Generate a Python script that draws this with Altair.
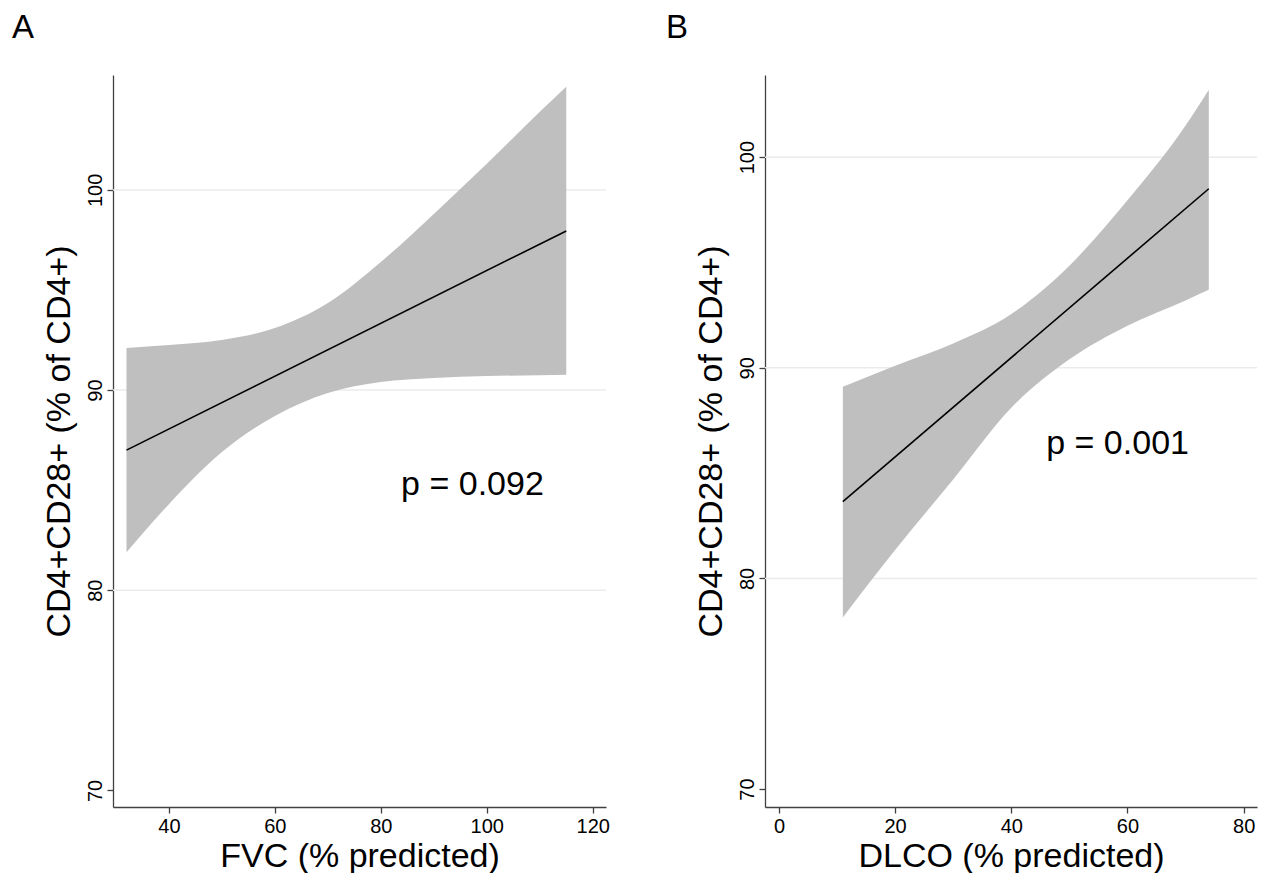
import altair as alt
import pandas as pd

# ---------------- data ----------------
# Panel A: FVC
a_band_x = [32, 40, 50, 60, 70, 80, 90, 100, 110, 115]
a_band_hi = [92.1, 92.25, 92.5, 93.1, 94.35, 96.4, 98.8, 101.3, 103.9, 105.15]
a_band_lo = [81.9, 84.3, 86.9, 88.7, 89.85, 90.4, 90.6, 90.7, 90.74, 90.76]
a_line_x = [32, 115]
a_line_y = [87.0, 97.95]
a_p_label = ["p = 0.092"]
a_p_x = [97.3]
a_p_y = [85.25]
a_xticks = [40, 60, 80, 100, 120]

# Panel B: DLCO
b_band_x = [11, 20, 30, 40, 50, 60, 70, 74]
b_band_hi = [89.1, 90.1, 91.15, 92.55, 94.85, 97.95, 101.5, 103.2]
b_band_lo = [78.15, 81.35, 84.7, 88.1, 90.4, 92.0, 93.2, 93.7]
b_line_x = [11, 74]
b_line_y = [83.65, 98.5]
b_p_label = ["p = 0.001"]
b_p_x = [58.3]
b_p_y = [86.36]
b_xticks = [0, 20, 40, 60, 80]

yticks = [70, 80, 90, 100]
grid_values = [80, 90, 100]
y_title = "CD4+CD28+ (% of CD4+)"

FONT = "Liberation Sans"


def panel(band_x, hi, lo, line_x, line_y, p_x, p_y, p_label, xdom, ydom,
          xticks, xtitle, letter, w, h, dx):
    band = pd.DataFrame({"x": band_x, "hi": hi, "lo": lo})
    line = pd.DataFrame({"x": line_x, "y": line_y})
    grid = pd.DataFrame({"g": grid_values})
    ann = pd.DataFrame({"x": p_x, "y": p_y, "t": p_label})

    xs = alt.Scale(domain=xdom, nice=False, zero=False)
    ys = alt.Scale(domain=ydom, nice=False, zero=False)
    xaxis = alt.Axis(values=xticks, title=xtitle, grid=False, format="d")
    yaxis = alt.Axis(values=yticks, title=y_title, grid=False, format="d")

    g = alt.Chart(grid).mark_rule(color="#ebebeb", strokeWidth=1.5).encode(
        y=alt.Y("g:Q", scale=ys, axis=yaxis)
    )
    a = alt.Chart(band).mark_area(color="#bfbfbf", opacity=1, interpolate="monotone").encode(
        x=alt.X("x:Q", scale=xs, axis=xaxis),
        y=alt.Y("lo:Q", scale=ys, axis=yaxis),
        y2="hi:Q",
    )
    l = alt.Chart(line).mark_line(color="black", strokeWidth=1.6).encode(
        x=alt.X("x:Q", scale=xs, axis=xaxis),
        y=alt.Y("y:Q", scale=ys, axis=yaxis),
    )
    t = alt.Chart(ann).mark_text(fontSize=34, font=FONT, align="center",
                                 baseline="middle", color="black").encode(
        x=alt.X("x:Q", scale=xs, axis=xaxis),
        y=alt.Y("y:Q", scale=ys, axis=yaxis),
        text="t:N",
    )
    return alt.layer(g, a, l, t).properties(
        width=w, height=h,
        title=alt.TitleParams(letter, anchor="start", frame="group", dx=dx,
                              fontSize=33, font=FONT, fontWeight="normal",
                              offset=4, baseline="alphabetic", color="black"),
    )


A = panel(a_band_x, a_band_hi, a_band_lo, a_line_x, a_line_y, a_p_x, a_p_y,
          a_p_label, [29.45, 122.5], [69.17, 105.74], a_xticks,
          "FVC (% predicted)", "A", 493, 732, -101)
B = panel(b_band_x, b_band_hi, b_band_lo, b_line_x, b_line_y, b_p_x, b_p_y,
          b_p_label, [-2.4, 82.3], [69.15, 103.9], b_xticks,
          "DLCO (% predicted)", "B", 492, 732, -99)

chart = alt.hconcat(A, B, spacing=56).properties(
    padding={"left": 4, "top": 4, "right": 0, "bottom": 0},
    background="white",
).configure_view(stroke=None).configure_axis(
    domainColor="#404040", domainWidth=1.3, tickColor="#404040", tickWidth=1.3,
    tickSize=6, labelFont=FONT, titleFont=FONT, labelFontSize=20,
    titleFontSize=34, titleFontWeight="normal", labelColor="black",
    titleColor="black",
).configure_axisX(
    labelPadding=3, titlePadding=3,
).configure_axisY(
    labelAngle=270, labelAlign="center", labelBaseline="alphabetic",
    labelPadding=6, titlePadding=9,
)

chart.save("out.html", embed_options={"renderer": "svg", "actions": False})
